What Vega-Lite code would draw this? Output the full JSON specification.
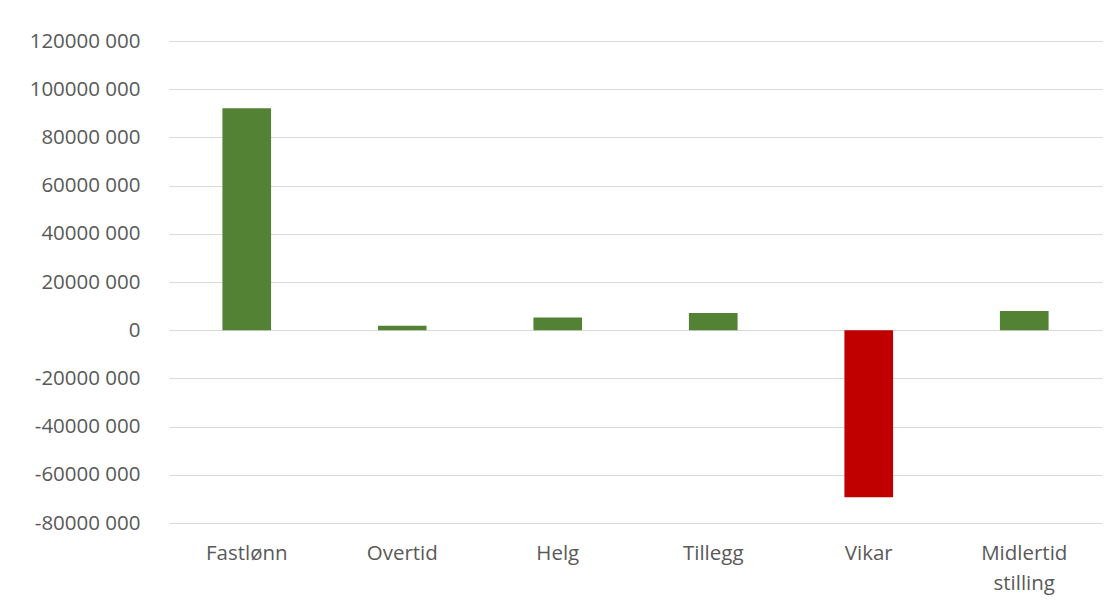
{
  "$schema": "https://vega.github.io/schema/vega-lite/v6.json",
  "width": 933,
  "height": 482,
  "autosize": {"type": "none"},
  "padding": {"left": 169, "top": 41, "right": 12, "bottom": 85},
  "background": "white",
  "config": {
    "view": {"stroke": null},
    "font": "Open Sans"
  },
  "data": {
    "values": [
      {"kategori": "Fastlønn", "verdi": 92100000},
      {"kategori": "Overtid", "verdi": 1800000},
      {"kategori": "Helg", "verdi": 5300000},
      {"kategori": "Tillegg", "verdi": 7100000},
      {"kategori": "Vikar", "verdi": -69300000},
      {"kategori": "Midlertid stilling", "verdi": 8000000}
    ]
  },
  "mark": {"type": "bar"},
  "encoding": {
    "x": {
      "field": "kategori",
      "type": "nominal",
      "sort": null,
      "scale": {"paddingInner": 0.687, "paddingOuter": 0.3435},
      "axis": {
        "title": null,
        "domain": false,
        "ticks": false,
        "grid": false,
        "labelAngle": 0,
        "labelFont": "Open Sans",
        "labelFontSize": 20.5,
        "labelColor": "#595959",
        "labelPadding": 20,
        "labelLineHeight": 30,
        "labelExpr": "datum.label == 'Midlertid stilling' ? ['Midlertid', 'stilling'] : datum.label"
      }
    },
    "y": {
      "field": "verdi",
      "type": "quantitative",
      "scale": {"domain": [-80000000, 120000000], "nice": false, "zero": false},
      "axis": {
        "title": null,
        "domain": false,
        "ticks": false,
        "values": [-80000000, -60000000, -40000000, -20000000, 0, 20000000, 40000000, 60000000, 80000000, 100000000, 120000000],
        "labelFont": "Open Sans",
        "labelFontSize": 20.5,
        "labelColor": "#595959",
        "labelPadding": 29,
        "gridColor": "#d9d9d9",
        "gridWidth": 1.2,
        "labelExpr": "datum.value == 0 ? '0' : '' + (datum.value / 1000) + ' 000'"
      }
    },
    "color": {
      "condition": {"test": "datum.verdi < 0", "value": "#C00000"},
      "value": "#548235"
    }
  }
}
